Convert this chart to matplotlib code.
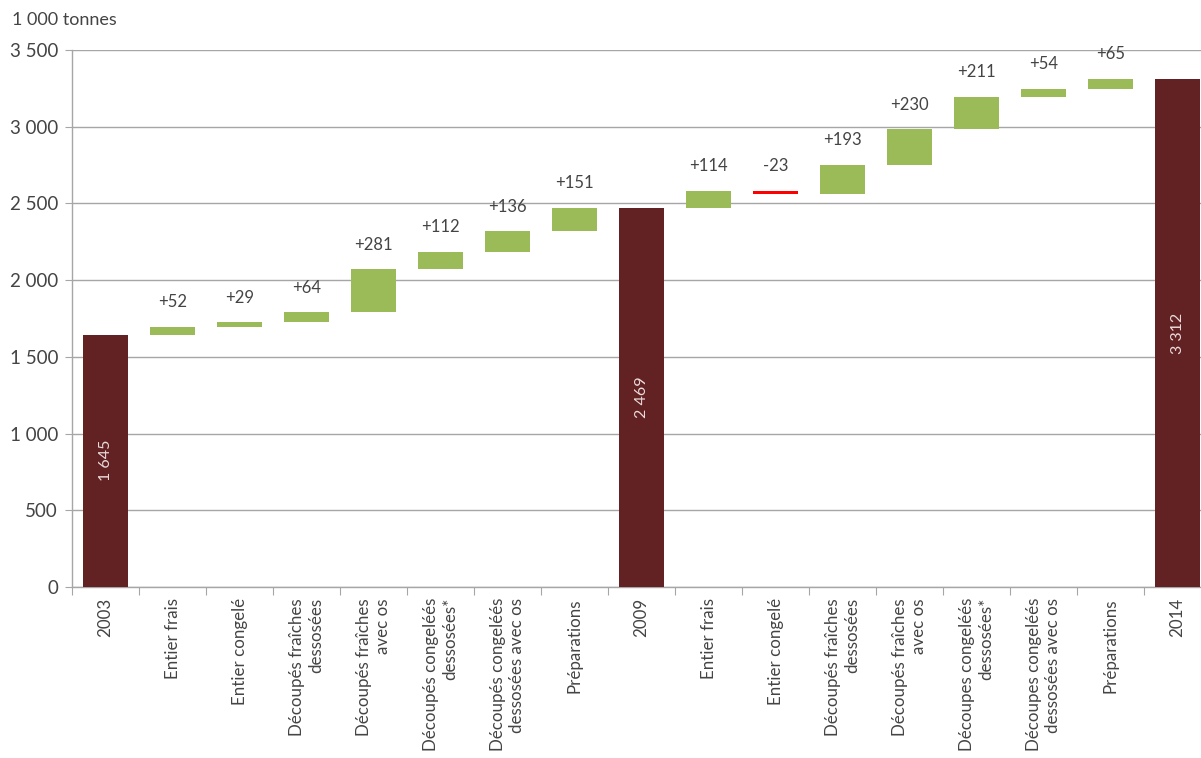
import matplotlib
matplotlib.use("Agg")
import matplotlib.pyplot as plt
import numpy as np

categories = [
    "2003", "Entier frais", "Entier congelé", "Découpés fraîches\ndessosées",
    "Découpés fraîches\navec os", "Découpés congeléés\ndessosées*",
    "Découpés congeléés\ndessosées avec os", "Préparations",
    "2009", "Entier frais", "Entier congelé", "Découpés fraîches\ndessosées",
    "Découpés fraîches\navec os", "Découpes congeléés\ndessosées*",
    "Découpes congeléés\ndessosées avec os", "Préparations", "2014",
]
# None marks a total bar, numbers are year-on-year changes
totals = {0: 1645, 8: 2469, 16: 3312}
changes = [None, 52, 29, 64, 281, 112, 136, 151,
           None, 114, -23, 193, 230, 211, 54, 65, None]
y_ticks = [0, 500, 1000, 1500, 2000, 2500, 3000, 3500]
y_tick_labels = ["0", "500", "1 000", "1 500", "2 000", "2 500", "3 000", "3 500"]

TOTAL_C = "#622224"
UP_C = "#9BBB59"
DOWN_C = "#FF0000"
GRID_C = "#A6A6A6"
TEXT_C = "#444444"

plt.rcParams["font.family"] = ["Lato", "DejaVu Sans"]

fig = plt.figure(figsize=(12.01, 7.58), dpi=100)
ax = fig.add_axes([72 / 1201, 1 - 587 / 758, 1139 / 1201, 537 / 758])

x = np.arange(len(categories)) + 0.5
width = 0.67
level = 0
for i, ch in enumerate(changes):
    if ch is None:
        val = totals[i]
        ax.bar(x[i], val, width=width, color=TOTAL_C, zorder=3)
        ax.text(x[i], val / 2, f"{val:,}".replace(",", " "), rotation=90,
                ha="center", va="center", color="#EADADA", fontsize=11.5,
                zorder=4)
        level = val
    else:
        bottom = level if ch > 0 else level + ch
        ax.bar(x[i], abs(ch), bottom=bottom, width=width,
               color=UP_C if ch > 0 else DOWN_C, zorder=3)
        top = max(level, level + ch)
        ax.annotate(f"{ch:+d}", (x[i], top), xytext=(0, 12),
                    textcoords="offset points", ha="center", va="bottom",
                    fontsize=12, color=TEXT_C)
        level += ch

ax.set_xlim(0, len(categories))
ax.set_ylim(0, 3500)
ax.set_yticks(y_ticks)
ax.set_yticklabels(y_tick_labels)
ax.yaxis.grid(True, color=GRID_C, linewidth=1, zorder=0)
ax.set_axisbelow(True)

ax.set_xticks(np.arange(len(categories) + 1))
ax.set_xticklabels([])
ax.set_xticks(x, minor=True)
ax.set_xticklabels(categories, minor=True, rotation=90, ha="center",
                   va="top", multialignment="right", fontsize=12.2,
                   color=TEXT_C)
ax.tick_params(axis="x", which="minor", length=0, pad=8)
ax.tick_params(axis="x", which="major", length=6, color=GRID_C, direction="out")
ax.tick_params(axis="y", length=5, color=GRID_C, labelsize=13.5,
               labelcolor=TEXT_C, pad=5)

for s in ["top", "right"]:
    ax.spines[s].set_visible(False)
for s in ["left", "bottom"]:
    ax.spines[s].set_color(GRID_C)
    ax.spines[s].set_linewidth(1)

fig.text(12 / 1201, 1 - 20 / 758, "1 000 tonnes", ha="left", va="center",
         fontsize=13, color=TEXT_C)

fig.savefig("out.png", dpi=100)
